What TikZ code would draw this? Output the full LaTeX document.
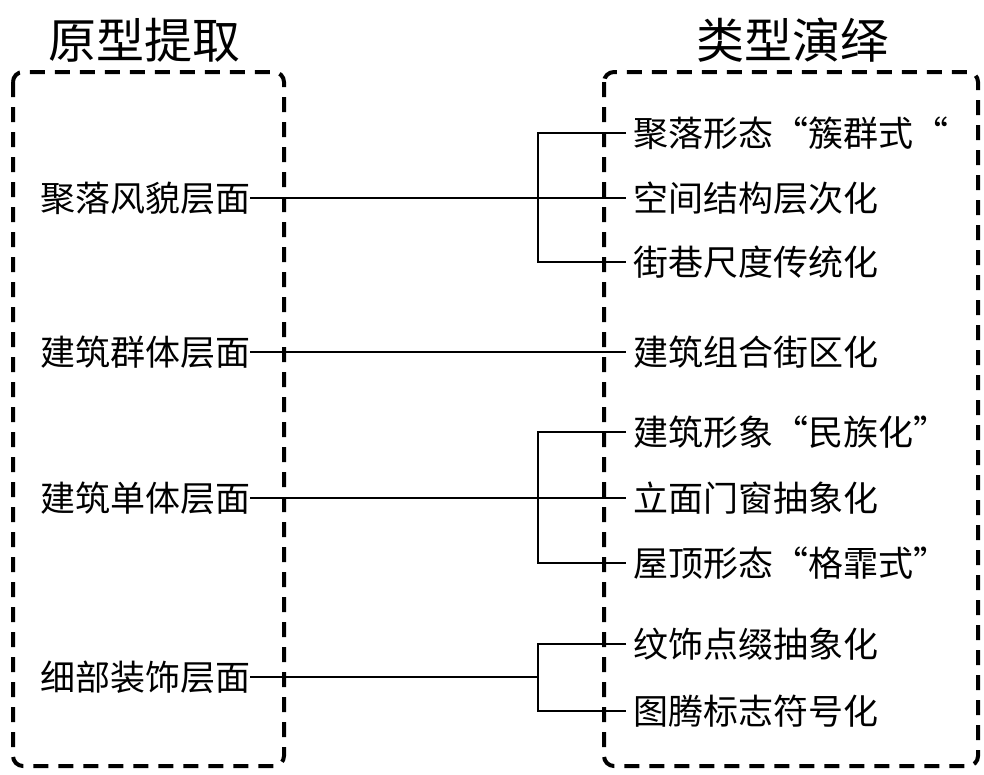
\documentclass[tikz,border=0pt]{standalone}
\usepackage{fontspec}
\setmainfont{Noto Sans CJK SC}
\tikzset{
	dashbox/.style={draw, line width=4pt, dash pattern=on 15pt off 10pt, rounded corners=10pt},
	conn/.style={line width=2.2pt},
	lefttext/.style={anchor=west, inner xsep=0pt, font=\fontsize{35}{40}\selectfont},
	righttext/.style={anchor=west, inner xsep=7pt, font=\fontsize{35}{40}\selectfont},
	titletext/.style={font=\fontsize{48}{56}\selectfont}
}
\begin{document}
\begin{tikzpicture}[x=1pt, y=-1pt]
	\useasboundingbox (0,0) rectangle (984,774);
	% titles and the two dashed frames
	\node[titletext] (tl) at (144,40) {原型提取};
	\node[titletext] (tr) at (792,40) {类型演绎};
	\draw[dashbox] (13,72) rectangle (284,766);
	\draw[dashbox] (604,72) rectangle (978,766);
	% left column
	\node[lefttext] (l1) at (40,198) {聚落风貌层面};
	\node[lefttext] (l2) at (40,352) {建筑群体层面};
	\node[lefttext] (l3) at (40,498) {建筑单体层面};
	\node[lefttext] (l4) at (40,677) {细部装饰层面};
	% right column
	\node[righttext] (r1) at (626,133) {聚落形态“簇群式“};
	\node[righttext] (r2) at (626,198) {空间结构层次化};
	\node[righttext] (r3) at (626,262) {街巷尺度传统化};
	\node[righttext] (r4) at (626,352) {建筑组合街区化};
	\node[righttext] (r5) at (626,432) {建筑形象“民族化”};
	\node[righttext] (r6) at (626,498) {立面门窗抽象化};
	\node[righttext] (r7) at (626,563) {屋顶形态“格霏式”};
	\node[righttext] (r8) at (626,644) {纹饰点缀抽象化};
	\node[righttext] (r9) at (626,711) {图腾标志符号化};
	% branch points
	\coordinate (b1) at (538,198);
	\coordinate (b3) at (538,498);
	\coordinate (b4) at (538,677);
	% connectors
	\draw[conn] (l1.east) -- (r2.west);
	\draw[conn] (r1.west) -| (b1) |- (r3.west);
	\draw[conn] (l2.east) -- (r4.west);
	\draw[conn] (l3.east) -- (r6.west);
	\draw[conn] (r5.west) -| (b3) |- (r7.west);
	\draw[conn] (l4.east) -- (b4);
	\draw[conn] (r8.west) -| (b4) |- (r9.west);
\end{tikzpicture}
\end{document}
